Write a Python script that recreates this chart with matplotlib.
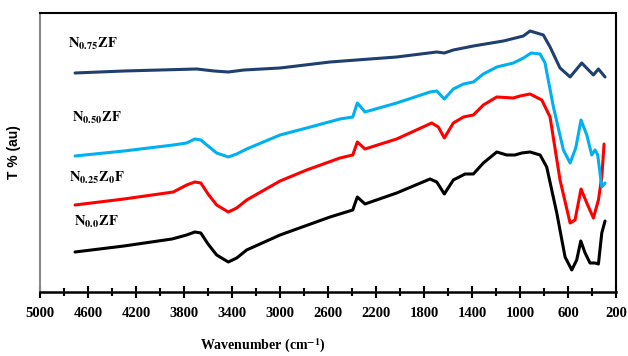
import numpy as np
import matplotlib.pyplot as plt
from matplotlib.ticker import FixedLocator

plt.rcParams['font.family'] = 'Liberation Serif'
plt.rcParams['mathtext.fontset'] = 'stix'

# wavenumber (cm-1) and transmittance (a.u.)
wn_00 = [4708, 4300, 3900, 3778, 3710, 3660, 3600, 3528, 3431, 3361, 3278, 3000, 2583, 2394, 2356,
         2292, 2028, 1750, 1694, 1631, 1556, 1458, 1389, 1306, 1194, 1111, 1042, 986, 917, 833,
         778, 694, 625, 569, 528, 494, 458, 417, 375, 347, 319, 292]
t_00 = [48, 54, 61, 65, 68, 67, 56, 45, 38, 42, 50, 65, 83, 90, 103,
        96, 107, 121, 118, 106, 120, 126, 126, 137, 148, 145, 145, 147, 148, 145,
        133, 87, 43, 30, 40, 59, 47, 37, 37, 36, 67, 79]

wn_25 = [4708, 4300, 3889, 3778, 3710, 3660, 3600, 3528, 3431, 3361, 3278, 3000, 2778, 2500, 2394,
         2356, 2292, 2028, 1736, 1681, 1631, 1556, 1472, 1389, 1306, 1194, 1056, 1000, 917, 819,
         750, 667, 583, 542, 492, 444, 389, 347, 319, 300]
t_25 = [95, 101, 108, 115, 118, 117, 106, 95, 88, 92, 100, 119, 130, 142, 145,
        158, 151, 161, 177, 173, 162, 177, 183, 185, 195, 203, 202, 204, 206, 200,
        183, 120, 77, 80, 111, 97, 82, 100, 123, 156]

wn_50 = [4708, 4300, 3889, 3778, 3710, 3660, 3600, 3528, 3431, 3361, 3278, 3000, 2778, 2500, 2394,
         2356, 2292, 2028, 1750, 1694, 1631, 1556, 1472, 1389, 1306, 1194, 1056, 972, 908, 833,
         792, 722, 639, 583, 536, 492, 444, 403, 375, 353, 319, 292]
t_50 = [144, 149, 155, 157, 161, 160, 154, 147, 143, 146, 151, 165, 172, 181, 183,
        197, 188, 197, 208, 209, 201, 211, 216, 218, 226, 233, 237, 242, 247, 246,
        237, 193, 150, 137, 152, 180, 165, 145, 150, 145, 113, 117]

wn_75 = [4708, 4300, 3694, 3550, 3431, 3300, 3000, 2583, 2028, 1694, 1631, 1556, 1389, 1139,
         972, 917, 806, 750, 667, 583, 486, 389, 347, 292]
t_75 = [227, 229, 231, 229, 228, 230, 232, 238, 243, 248, 247, 250, 254, 259,
        264, 269, 265, 253, 232, 223, 237, 225, 231, 223]

xticks = [5000, 4600, 4200, 3800, 3400, 3000, 2600, 2200, 1800, 1400, 1000, 600, 200]

series = [
    (wn_00, t_00, 'black', r'$\mathbf{N_{0.0}ZF}$', 4720, 78),
    (wn_25, t_25, '#ff0000', r'$\mathbf{N_{0.25}Z_{0}F}$', 4760, 122),
    (wn_50, t_50, '#00b0f0', r'$\mathbf{N_{0.50}ZF}$', 4730, 182),
    (wn_75, t_75, '#1f3f6f', r'$\mathbf{N_{0.75}ZF}$', 4770, 256),
]

fig = plt.figure(figsize=(6.28, 3.56), dpi=100)
ax = fig.add_axes([0.0637, 0.1798, 0.9173, 0.7837])

for wn, t, c, lab, lx, ly in series:
    ax.plot(wn, t, color=c, lw=2.2, solid_joinstyle='round', solid_capstyle='round')
    ax.text(lx, ly, lab, fontsize=10.5, ha='left', va='center')

ax.set_xlim(5000, 200)
ax.set_ylim(8, 287)
ax.xaxis.set_major_locator(FixedLocator(xticks))
ax.xaxis.set_minor_locator(FixedLocator([v - 200 for v in xticks[:-1]]))
ax.tick_params(axis='x', which='major', direction='inout', length=9, width=1.5, labelsize=10.5, pad=6)
ax.tick_params(axis='x', which='minor', direction='inout', length=6, width=1.5)
ax.set_yticks([])
for lbl in ax.get_xticklabels():
    lbl.set_fontweight('bold')

ax.spines['bottom'].set_linewidth(1.8)
ax.spines['top'].set_linewidth(1.5)
ax.spines['right'].set_linewidth(1.5)
ax.spines['left'].set_color('#888888')
ax.spines['left'].set_linewidth(1.5)

ax.set_xlabel(r'Wavenumber (cm$^{\mathbf{-1}}$)', fontsize=10, fontweight='bold')
ax.xaxis.set_label_coords(0.387, -0.16)
ax.set_ylabel('T % (au)', fontsize=10, fontweight='bold', family='Liberation Sans', labelpad=14)

fig.savefig('out.png', dpi=100)
